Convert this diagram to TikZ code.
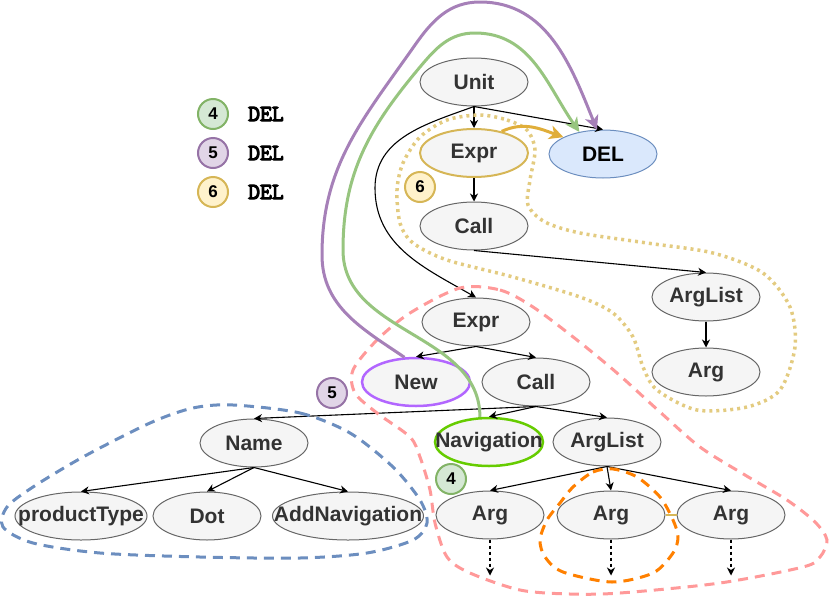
\documentclass[tikz,border=0pt]{standalone}
\usepackage{fontspec}
\setmainfont{Liberation Sans}
\newfontfamily\legfont{Latin Modern Mono}[FakeBold=5]
\usepackage{tikz}
\usepackage{xcolor}
\usetikzlibrary{arrows.meta,positioning,shapes.geometric}
\definecolor{nodefill}{HTML}{F5F5F5}
\definecolor{nodeedge}{HTML}{666666}
\definecolor{nodetext}{HTML}{333333}
\definecolor{delfill}{HTML}{DAE8FC}
\definecolor{deledge}{HTML}{6C8EBF}
\definecolor{grnfill}{HTML}{D5E8D4}
\definecolor{grnedge}{HTML}{82B366}
\definecolor{grnarrow}{HTML}{97C57F}
\definecolor{purfill}{HTML}{E1D5E7}
\definecolor{puredge}{HTML}{9673A6}
\definecolor{purarrow}{HTML}{A680B8}
\definecolor{yelfill}{HTML}{FFF2CC}
\definecolor{yeledge}{HTML}{D6B656}
\definecolor{yelarrow}{HTML}{E0AE3A}
\definecolor{yeldot}{HTML}{E3CB80}
\definecolor{newedge}{HTML}{B266FF}
\definecolor{naviedge}{HTML}{66CC00}
\definecolor{pinkdash}{HTML}{FF9999}
\definecolor{orangedash}{HTML}{FF8000}

\begin{document}
\begin{tikzpicture}[x=1pt, y=1pt,
  ast/.style={ellipse, draw=nodeedge, fill=nodefill, line width=1pt, minimum width=108pt,
              minimum height=48pt, inner xsep=-45pt, inner ysep=0pt, text=nodetext,
              font=\fontsize{21}{24}\selectfont\bfseries},
  badge/.style={circle, line width=2pt, minimum size=30pt, inner sep=0pt,
                font=\fontsize{17}{19}\selectfont\bfseries},
  legtext/.style={inner sep=0pt, font=\legfont\fontsize{23}{26}\selectfont},
  ar/.style={-{Stealth[length=8pt, width=8pt, inset=2.5pt]}, line width=1.1pt},
  dotar/.style={ar, dash pattern=on 3pt off 3pt},
  bigar/.style={-{Stealth[length=14pt, width=14pt, inset=4pt]}, line width=3pt},
  blob/.style={line width=3pt, dash pattern=on 10pt off 7pt},
]
\useasboundingbox (0,0) rectangle (830,-600);

% legend
\node[badge, fill=grnfill, draw=grnedge] (l4) at (213,-114) {4};
\node[badge, fill=purfill, draw=puredge] (l5) at (213,-153) {5};
\node[badge, fill=yelfill, draw=yeledge] (l6) at (213,-192) {6};
\node[legtext, right=19pt of l4] (t4) {DEL};
\node[legtext, right=19pt of l5] (t5) {DEL};
\node[legtext, right=19pt of l6] (t6) {DEL};

% upper tree
\node[ast] (unit) at (474,-82) {Unit};
\node[ast, draw=yeledge, line width=2pt] (expr1) at (474,-153) {Expr};
\node[ast, fill=delfill, draw=deledge, text=black] (del) at (603,-154) {DEL};
\node[ast] (call1) at (474,-226) {Call};
\node[ast] (arglist1) at (706,-297) {ArgList};
\node[ast, below=26pt of arglist1] (arg0) {Arg};

% lower tree
\node[ast] (expr2) at (476,-322) {Expr};
\node[ast, draw=newedge, line width=2.5pt] (new) at (416,-382) {New};
\node[ast] (call2) at (536,-382) {Call};
\node[ast] (name) at (254,-443) {Name};
\node[ast, draw=naviedge, line width=2.5pt] (navi) at (489,-442) {Navigation};
\node[ast] (arglist2) at (607,-442) {ArgList};
\node[ast, minimum width=132pt] (ptype) at (81,-516) {productType};
\node[ast] (dot) at (207,-516) {Dot};
\node[ast, minimum width=151pt] (addnav) at (348,-516) {AddNavigation};
\node[ast] (arg1) at (490,-515) {Arg};
\node[ast] (arg2) at (611,-515) {Arg};
\node[ast] (arg3) at (731,-515) {Arg};

\node[badge, fill=grnfill, draw=grnedge] (b4) at (451,-479) {4};
\node[badge, fill=purfill, draw=puredge] (b5) at (332,-393) {5};
\node[badge, fill=yelfill, draw=yeledge] (b6) at (420,-187) {6};

% edges
\draw[ar] (unit) -- (expr1);
\draw[ar] (unit.south) -- (del.north);
\draw[ar] (unit.south) to[out=200,in=90] (375,-188) to[out=-90,in=150] (expr2.north);
\draw[ar] (expr1) -- (call1);
\draw[ar] (call1.south) -- (arglist1.north);
\draw[ar] (arglist1) -- (arg0);
\foreach \t in {new,call2} \draw[ar] (expr2.south) -- (\t.north);
\foreach \t in {name,navi,arglist2} \draw[ar] (call2.south) -- (\t.north);
\foreach \t in {ptype,dot,addnav} \draw[ar] (name.south) -- (\t.north);
\foreach \t in {arg1,arg2,arg3} \draw[ar] (arglist2.south) -- (\t.north);
\foreach \t in {arg1,arg2,arg3} {
  \coordinate[below=36pt of \t] (\t end);
  \draw[dotar] (\t.south) -- (\t end);
}
\draw[yeledge, line width=1.5pt] (arg2) -- (arg3);

% regions
\draw[blob, draw=pinkdash] plot[smooth cycle] coordinates {(460,-288) (500,-290) (533,-307)
  (577,-340) (617,-373) (660,-412) (700,-447) (745,-475) (787,-500) (815,-522) (827,-540)
  (820,-557) (803,-567) (720,-583) (620,-593) (570,-594) (520,-590) (470,-573) (447,-557)
  (435,-523) (430,-490) (420,-457) (410,-437) (377,-413) (355,-393) (353,-370) (377,-340)
  (410,-313)};
\draw[blob, draw=deledge] plot[smooth cycle] coordinates {(233,-405) (300,-413) (350,-433)
  (393,-467) (420,-500) (427,-523) (413,-540) (367,-553) (300,-558) (200,-557) (100,-553)
  (33,-543) (3,-527) (7,-507) (33,-487) (83,-457) (150,-423) (193,-408)};
\draw[blob, draw=orangedash] plot[smooth cycle] coordinates {(573,-487) (593,-472) (613,-469)
  (637,-477) (660,-497) (673,-520) (678,-537) (673,-553) (653,-573) (612,-582) (563,-572)
  (545,-557) (540,-540) (547,-520) (560,-503)};
\draw[yeldot, line width=3.5pt, dash pattern=on 3pt off 4pt] plot[smooth cycle] coordinates
  {(480,-115) (507,-120) (527,-130) (535,-150) (530,-180) (528,-205) (545,-222) (580,-233)
  (647,-243) (713,-253) (763,-273) (790,-307) (795,-347) (780,-390) (747,-407) (697,-410)
  (657,-390) (643,-367) (633,-337) (613,-313) (580,-297) (513,-277) (447,-260) (413,-243)
  (400,-223) (397,-190) (403,-163) (420,-137) (447,-120)};

% deletions
\draw[bigar, draw=purarrow] (new.115) to[out=146,in=-90] (322,-255)
  to[out=90,in=235] (415,-45) to[out=55,in=180] (480,-2) to[out=0,in=112] (del.104);
\draw[bigar, draw=grnarrow] (navi.110) to[out=90,in=-90] (343,-250)
  to[out=90,in=230] (420,-67) to[out=50,in=180] (475,-33) to[out=0,in=125] (del.137);
\draw[bigar, draw=yelarrow] (expr1.38) to[out=25,in=160] (del.157);
\end{tikzpicture}
\end{document}
